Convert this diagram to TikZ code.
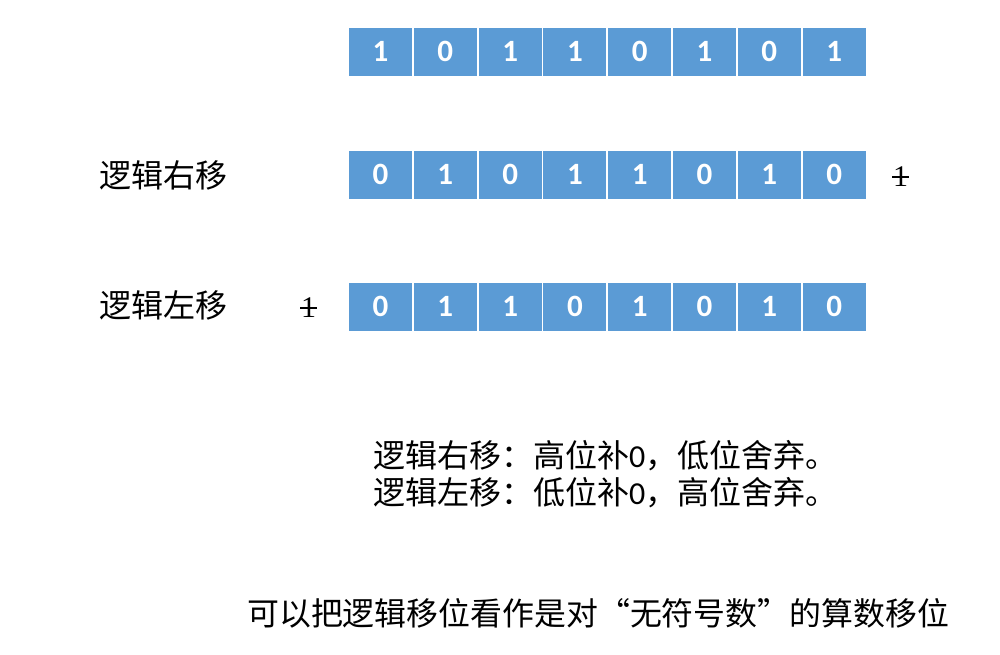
\documentclass[tikz,border=0pt]{standalone}
\usepackage{fontspec}
\newfontfamily\cjk{Noto Sans CJK SC}
\newfontfamily\digitfont{Carlito}
\newfontfamily\serifdigit{Liberation Serif}
\definecolor{cellblue}{HTML}{5B9BD5}
\begin{document}
\begin{tikzpicture}[x=1pt,y=-1pt,
  cell/.style={fill=cellblue, minimum width=63pt, minimum height=48pt, inner sep=0pt,
    text=white, font=\digitfont\bfseries\fontsize{31}{31}\selectfont},
  rowlabel/.style={font=\cjk\fontsize{32}{32}\selectfont, inner sep=0pt},
  note/.style={font=\cjk\fontsize{32}{32}\selectfont, inner sep=0pt, anchor=west},
  bottom/.style={font=\cjk\fontsize{31.9}{31.9}\selectfont, inner sep=0pt, anchor=west},
  struck/.style={font=\serifdigit\fontsize{30}{30}\selectfont, inner sep=0.5pt},
  strike/.style={draw=black, line width=1.2pt}]
\fill[white] (0,0) rectangle (1000,654);
\useasboundingbox (0,0) rectangle (1000,654);
% original
\foreach \b [count=\i from 0] in {1,0,1,1,0,1,0,1}
  \node[cell] (a\i) at ({380.5+64.8*\i},51.5) {\b};
% logical right shift
\foreach \b [count=\i from 0] in {0,1,0,1,1,0,1,0}
  \node[cell] (r\i) at ({380.5+64.8*\i},174.5) {\b};
% logical left shift
\foreach \b [count=\i from 0] in {0,1,1,0,1,0,1,0}
  \node[cell] (l\i) at ({380.5+64.8*\i},306.5) {\b};
\node[rowlabel] (lr) at (163,175) {逻辑右移};
\node[rowlabel] (ll) at (163,305) {逻辑左移};
\node[struck] (dr) at (900.5,177) {1};
\draw[strike] (dr.west) -- (dr.east);
\node[struck] (dl) at (308.5,308) {1};
\draw[strike] (dl.west) -- (dl.east);
\node[note] (n1) at (373,456) {逻辑右移：高位补{\digitfont 0}，低位舍弃。};
\node[note] (n2) at (373,493) {逻辑左移：低位补{\digitfont 0}，高位舍弃。};
\node[bottom] (n3) at (247,613) {可以把逻辑移位看作是对“无符号数”的算数移位};
\end{tikzpicture}
\end{document}
